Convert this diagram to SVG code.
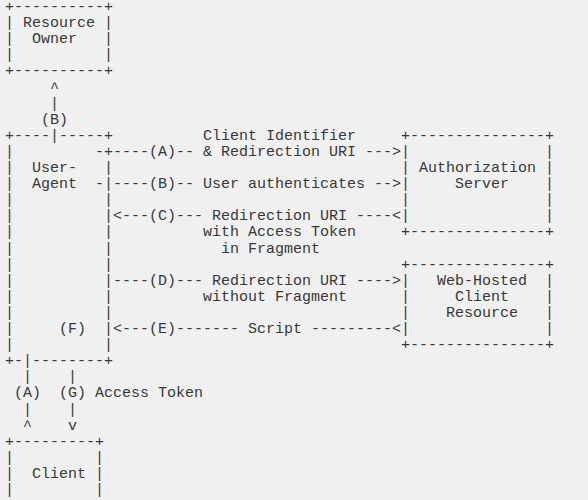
<svg xmlns="http://www.w3.org/2000/svg" width="588" height="500" viewBox="0 0 588 500" xml:space="preserve">
<style>
text { font-family: "Liberation Mono", "DejaVu Sans Mono", monospace; font-size: 15px; fill: #383838; white-space: pre; }
</style>
<rect x="0" y="0" width="588" height="500" fill="#f0f0f0"/>
<g id="resource-owner">
<text x="5" y="11">+----------+</text>
<text x="5" y="27.1">| Resource |</text>
<text x="5" y="43.2">|  Owner   |</text>
<text x="5" y="59.3">|          |</text>
<text x="5" y="75.4">+----------+</text>
</g>
<g id="user-agent">
<text x="5" y="139.8">+----|-----+</text>
<text x="5" y="155.9">|         -+</text>
<text x="5" y="172">|  User-   |</text>
<text x="5" y="188.1">|  Agent  -|</text>
<text x="5" y="204.2">|          |</text>
<text x="5" y="220.3">|          |</text>
<text x="5" y="236.4">|          |</text>
<text x="5" y="252.5">|          |</text>
<text x="5" y="268.6">|          |</text>
<text x="5" y="284.7">|          |</text>
<text x="5" y="300.8">|          |</text>
<text x="5" y="316.9">|          |</text>
<text x="5" y="333">|     (F)  |</text>
<text x="5" y="349.1">|          |</text>
<text x="5" y="365.2">+-|--------+</text>
</g>
<g id="authorization-server">
<text x="401" y="139.8">+---------------+</text>
<text x="401" y="155.9">|               |</text>
<text x="401" y="172">| Authorization |</text>
<text x="401" y="188.1">|     Server    |</text>
<text x="401" y="204.2">|               |</text>
<text x="401" y="220.3">|               |</text>
<text x="401" y="236.4">+---------------+</text>
</g>
<g id="web-hosted-client-resource">
<text x="401" y="268.6">+---------------+</text>
<text x="401" y="284.7">|   Web-Hosted  |</text>
<text x="401" y="300.8">|     Client    |</text>
<text x="401" y="316.9">|    Resource   |</text>
<text x="401" y="333">|               |</text>
<text x="401" y="349.1">+---------------+</text>
</g>
<g id="client">
<text x="5" y="445.7">+---------+</text>
<text x="5" y="461.8">|         |</text>
<text x="5" y="477.9">|  Client |</text>
<text x="5" y="494">|         |</text>
</g>
<g id="connectors">
<text x="50" y="91.5">^</text>
<text x="50" y="107.6">|</text>
<text x="41" y="123.7">(B)</text>
<text x="203" y="139.8">Client Identifier</text>
<text x="113" y="155.9">----(A)-- &amp; Redirection URI ---&gt;</text>
<text x="113" y="188.1">----(B)-- User authenticates --&gt;</text>
<text x="113" y="220.3">&lt;---(C)--- Redirection URI ----&lt;</text>
<text x="203" y="236.4">with Access Token</text>
<text x="221" y="252.5">in Fragment</text>
<text x="113" y="284.7">----(D)--- Redirection URI ----&gt;</text>
<text x="203" y="300.8">without Fragment</text>
<text x="113" y="333">&lt;---(E)------- Script ---------&lt;</text>
<text x="23" y="381.3">|    |</text>
<text x="14" y="397.4">(A)  (G) Access Token</text>
<text x="23" y="413.5">|    |</text>
<text x="23" y="429.6">^    v</text>
</g>
</svg>
